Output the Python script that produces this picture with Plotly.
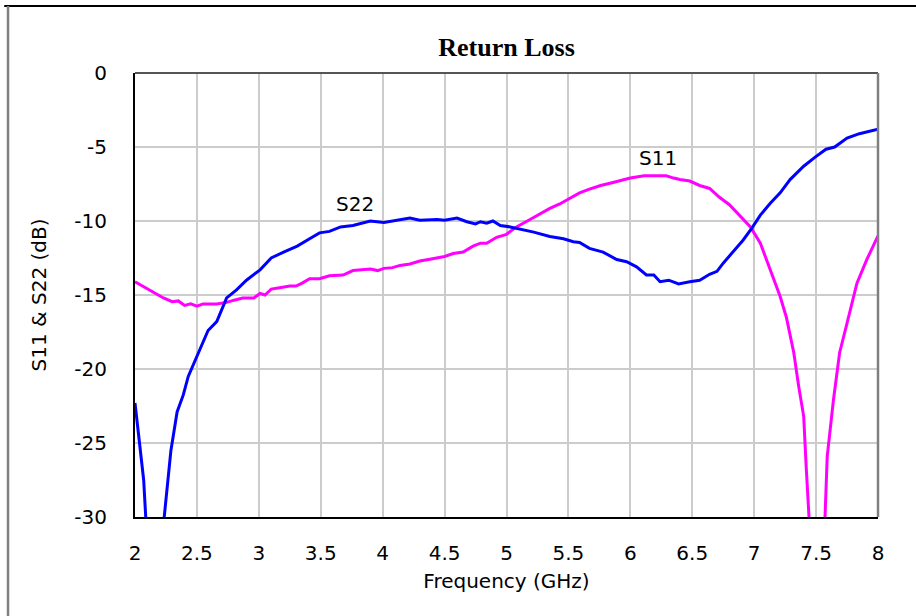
import plotly.graph_objects as go

# Frequency sweep (GHz) and measured return loss (dB)
s11_freq = [2.00, 2.08, 2.15, 2.23, 2.30, 2.35, 2.40, 2.45, 2.50, 2.55, 2.66, 2.74, 2.80, 2.87,
            2.96, 3.01, 3.05, 3.10, 3.18, 3.25, 3.30, 3.35, 3.41, 3.49, 3.57, 3.68, 3.76, 3.83,
            3.90, 3.96, 4.01, 4.08, 4.14, 4.22, 4.30, 4.37, 4.44, 4.50, 4.57, 4.65, 4.73, 4.79,
            4.84, 4.92, 5.00, 5.08, 5.19, 5.27, 5.35, 5.43, 5.51, 5.59, 5.67, 5.76, 5.86, 5.93,
            6.00, 6.11, 6.21, 6.25, 6.29, 6.35, 6.40, 6.48, 6.56, 6.64, 6.72, 6.80, 6.88, 6.97,
            7.05, 7.13, 7.21, 7.26, 7.32, 7.36, 7.40, 7.42, 7.45, 7.51, 7.57, 7.59, 7.64, 7.69,
            7.75, 7.83, 7.91, 8.00]
s11_db = [-14.1, -14.5, -14.8, -15.2, -15.45, -15.4, -15.7, -15.6, -15.75, -15.6, -15.6, -15.5,
          -15.35, -15.2, -15.2, -14.9, -15.0, -14.6, -14.5, -14.4, -14.4, -14.2, -13.9, -13.9,
          -13.7, -13.65, -13.35, -13.3, -13.25, -13.35, -13.2, -13.15, -13.0, -12.9, -12.7,
          -12.6, -12.5, -12.4, -12.2, -12.1, -11.7, -11.5, -11.5, -11.1, -10.9, -10.4, -9.9,
          -9.5, -9.15, -8.85, -8.5, -8.1, -7.85, -7.6, -7.4, -7.25, -7.1, -6.95, -6.95, -7.0,
          -6.95, -7.1, -7.2, -7.3, -7.6, -7.8, -8.4, -8.9, -9.6, -10.4, -11.5, -13.3, -15.1,
          -16.5, -18.9, -21.2, -23.2, -26.6, -30.5, -40.0, -30.5, -25.9, -22.1, -18.9, -16.9,
          -14.2, -12.6, -11.0]

s22_freq = [2.00, 2.04, 2.07, 2.09, 2.16, 2.23, 2.26, 2.29, 2.34, 2.39, 2.43, 2.48, 2.52, 2.59,
            2.66, 2.74, 2.82, 2.90, 3.01, 3.10, 3.20, 3.31, 3.41, 3.49, 3.57, 3.66, 3.76, 3.90,
            4.01, 4.11, 4.22, 4.30, 4.44, 4.50, 4.60, 4.68, 4.75, 4.79, 4.84, 4.89, 4.95, 5.03,
            5.14, 5.22, 5.35, 5.46, 5.54, 5.59, 5.67, 5.78, 5.89, 5.97, 6.05, 6.13, 6.19, 6.24,
            6.31, 6.39, 6.48, 6.56, 6.64, 6.70, 6.75, 6.83, 6.91, 6.98, 7.05, 7.13, 7.21, 7.29,
            7.40, 7.49, 7.58, 7.65, 7.75, 7.85, 7.99, 8.00]
s22_db = [-22.3, -25.25, -27.5, -30.5, -40.0, -30.5, -27.95, -25.5, -22.9, -21.75, -20.5, -19.5,
          -18.7, -17.4, -16.8, -15.2, -14.65, -14.0, -13.3, -12.5, -12.1, -11.7, -11.2, -10.8,
          -10.7, -10.4, -10.3, -10.0, -10.1, -9.95, -9.8, -9.95, -9.9, -9.95, -9.8, -10.05,
          -10.2, -10.05, -10.15, -10.0, -10.3, -10.4, -10.6, -10.75, -11.05, -11.2, -11.4,
          -11.45, -11.85, -12.1, -12.6, -12.75, -13.1, -13.65, -13.65, -14.1, -14.0, -14.25,
          -14.1, -14.0, -13.6, -13.4, -12.85, -12.1, -11.3, -10.5, -9.6, -8.8, -8.1, -7.2,
          -6.3, -5.7, -5.15, -5.0, -4.4, -4.1, -3.85, -3.8]

x_ticks = [2, 2.5, 3, 3.5, 4, 4.5, 5, 5.5, 6, 6.5, 7, 7.5, 8]
x_tick_text = ["2", "2.5", "3", "3.5", "4", "4.5", "5", "5.5", "6", "6.5", "7", "7.5", "8"]
y_ticks = [0, -5, -10, -15, -20, -25, -30]
y_tick_text = ["0", "-5", "-10", "-15", "-20", "-25", "-30"]

# Curve labels: (text, frequency, dB)
curve_labels = [("S22", 3.78, -8.85), ("S11", 6.22, -5.74)]

FONT = "DejaVu Sans, sans-serif"
FSIZE = 20

fig = go.Figure()
fig.add_trace(go.Scatter(x=s11_freq, y=s11_db, mode="lines", name="S11",
                         line=dict(color="#FF00FF", width=3)))
fig.add_trace(go.Scatter(x=s22_freq, y=s22_db, mode="lines", name="S22",
                         line=dict(color="#0000FF", width=3)))

for text, fx, fy in curve_labels:
    fig.add_annotation(x=fx, y=fy, text=text, showarrow=False,
                       font=dict(family=FONT, size=FSIZE, color="black"))

# Plot frame: dark left/bottom axis lines, grey top/right edges
fig.add_shape(type="line", xref="paper", yref="paper", x0=0, x1=1, y0=1, y1=1,
              line=dict(color="#555555", width=2))
fig.add_shape(type="line", xref="paper", yref="paper", x0=1, x1=1, y0=0, y1=1,
              line=dict(color="#808080", width=2.5))
# Outer figure border (top and left)
fig.add_shape(type="line", xref="paper", yref="paper", x0=-0.176, x1=1.06, y0=1.1509, y1=1.1509,
              line=dict(color="black", width=2))
fig.add_shape(type="line", xref="paper", yref="paper", x0=-0.1709, x1=-0.1709, y0=-0.25, y1=1.1509,
              line=dict(color="#808080", width=2.5))

fig.update_layout(
    width=916, height=616,
    margin=dict(l=135, r=38, t=73, b=99),
    paper_bgcolor="white", plot_bgcolor="white",
    showlegend=False,
    title=dict(text="<b>Return Loss</b>", x=0.5, xref="paper", y=1 - 47 / 616,
               yanchor="middle", xanchor="center",
               font=dict(family="Liberation Serif, Times New Roman, serif", size=26, color="black")),
    font=dict(family=FONT, size=FSIZE, color="black"),
)
fig.update_xaxes(
    range=[2, 8], tickvals=x_ticks, ticktext=x_tick_text,
    showgrid=True, gridcolor="#cccccc", gridwidth=1.5,
    showline=True, linecolor="black", linewidth=2,
    ticks="", ticklabelstandoff=17,
    tickfont=dict(family=FONT, size=FSIZE, color="black"),
    title=dict(text="Frequency (GHz)", standoff=10, font=dict(family=FONT, size=FSIZE, color="black")),
    zeroline=False,
)
fig.update_yaxes(
    range=[-30, 0], tickvals=y_ticks, ticktext=y_tick_text,
    showgrid=True, gridcolor="#cccccc", gridwidth=1.5,
    showline=True, linecolor="black", linewidth=2,
    ticks="", ticklabelstandoff=22,
    tickfont=dict(family=FONT, size=FSIZE, color="black"),
    title=dict(text="S11 & S22 (dB)", standoff=22, font=dict(family=FONT, size=FSIZE, color="black")),
    zeroline=False,
)

fig.write_html("out.html")
